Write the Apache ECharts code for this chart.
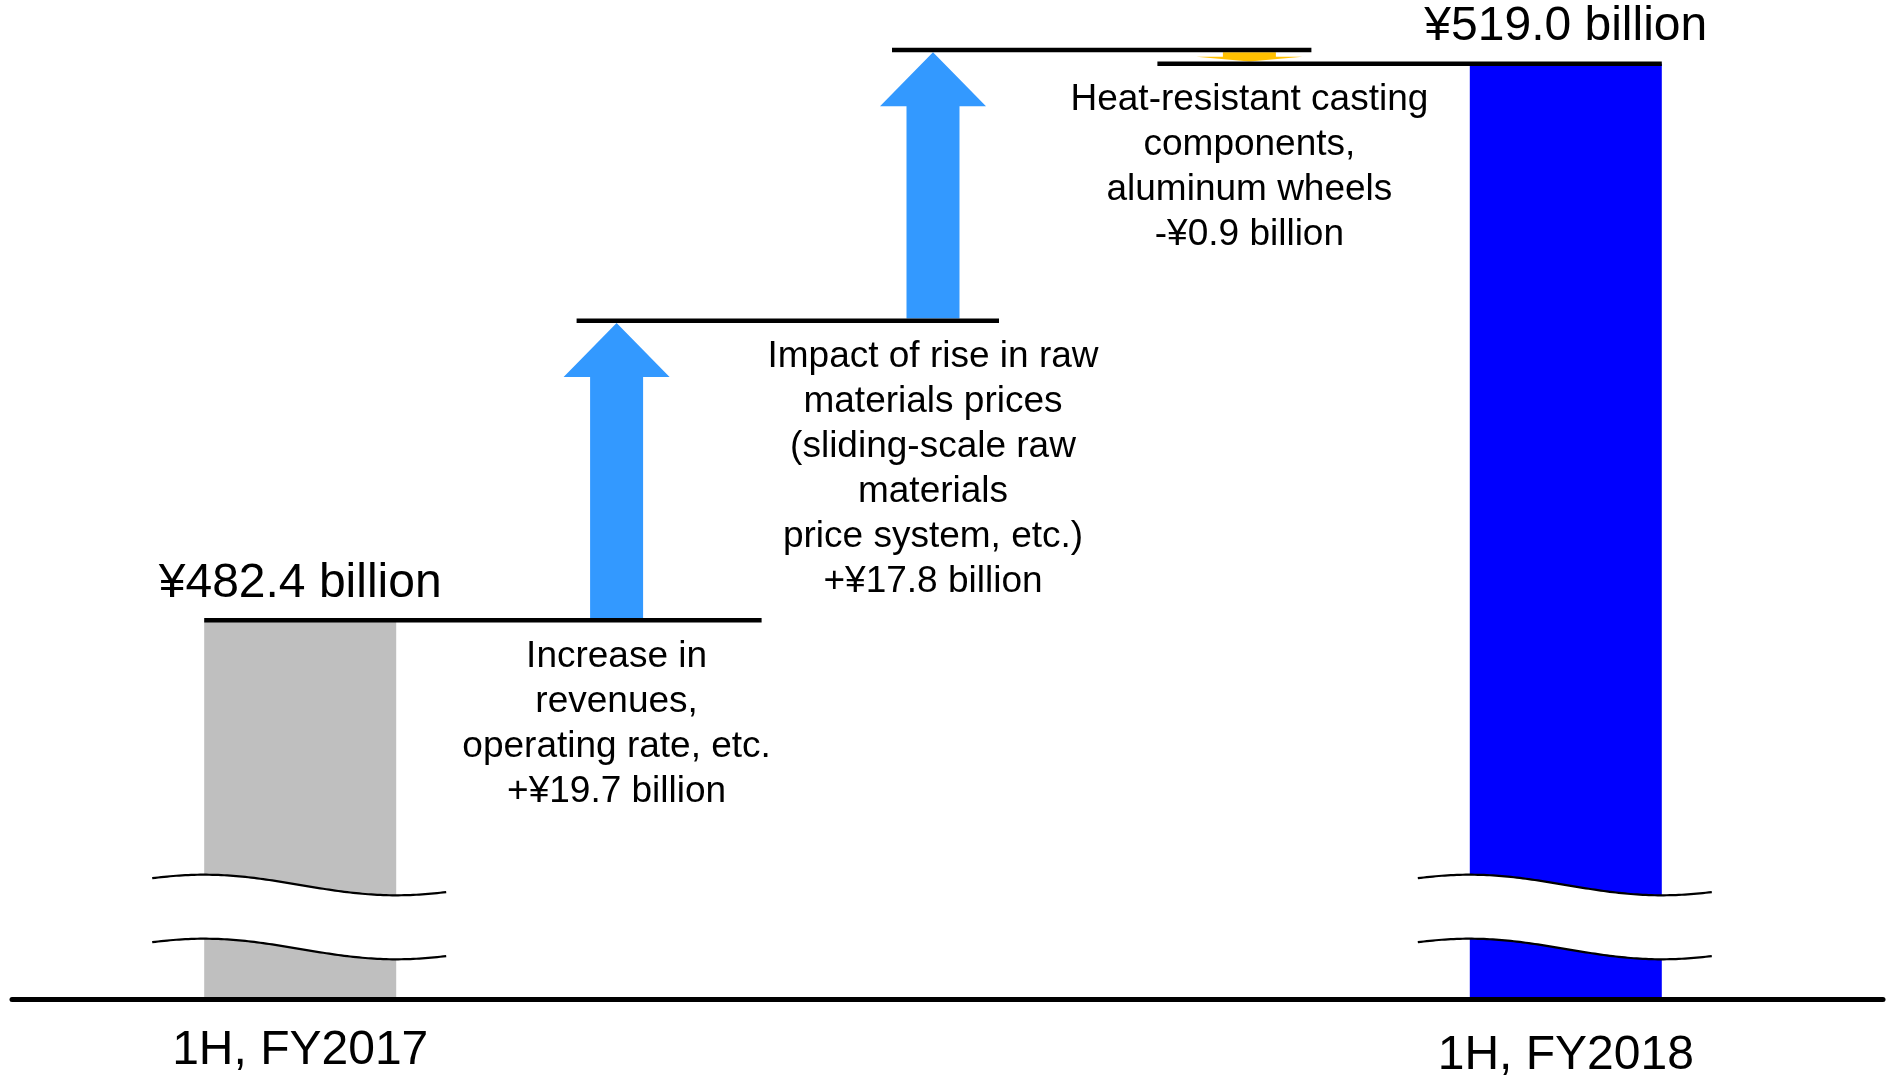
<!DOCTYPE html>
<html>
<head>
<meta charset="utf-8">
<script src="https://cdn.jsdelivr.net/npm/echarts@6/dist/echarts.min.js"></script>
<style>
html,body{margin:0;padding:0;background:#fff;}
#chart{width:1887px;height:1076px;}
</style>
</head>
<body>
<div id="chart"></div>
<script>
// ---- data ----
const categories = ['1H, FY2017', '', '', '', '1H, FY2018'];
const totals = [482.4, null, null, null, 519.0];
const totalLabels = ['¥482.4 billion', '', '', '', '¥519.0 billion'];
const changes = [null, 19.7, 17.8, -0.9, null];
const changeLabels = [
  '',
  'Increase in\nrevenues,\noperating rate, etc.\n+¥19.7 billion',
  'Impact of rise in raw\nmaterials prices\n(sliding-scale raw\nmaterials\nprice system, etc.)\n+¥17.8 billion',
  'Heat-resistant casting\ncomponents,\naluminum wheels\n-¥0.9 billion',
  ''
];

// ---- styles ----
const FONT = "'Liberation Sans', Arial, Helvetica, sans-serif";
const barColors = ['#BFBFBF', null, null, null, '#0000FF'];
const BAR_W = 192;
const LINE_W = 4.5;
const connectorExtents = [[-96, 145], [-40, 66], [-41, 62], [-92, 96]];

// ---- derived waterfall structure ----
const stepData = [];
const connectorData = [];
let level = totals[0];
let prevIdx = 0;
for (let i = 1; i < categories.length; i++) {
  if (changes[i] != null) {
    const to = Math.round((level + changes[i]) * 10) / 10;
    connectorData.push([prevIdx, i, level]);
    stepData.push([i, level, to]);
    level = to;
    prevIdx = i;
  } else if (totals[i] != null) {
    connectorData.push([prevIdx, i, totals[i]]);
  }
}
const barData = totals.map((v, i) => v == null ? '-' : {
  value: v,
  itemStyle: { color: barColors[i] },
  label: { formatter: totalLabels[i] }
});
const breakData = totals.map((v, i) => v == null ? null : [i, v]).filter(d => d);

function renderArrow(params, api) {
  const i = api.value(0), from = api.value(1), to = api.value(2);
  const p0 = api.coord([i, from]);
  const p1 = api.coord([i, to]);
  const x = p0[0];
  const dir = p1[1] < p0[1] ? -1 : 1;
  const y0 = p0[1] + dir * LINE_W / 2;
  const tip = p1[1] - dir * LINE_W / 2;
  const len = Math.abs(tip - y0);
  const hh = Math.min(54, len * 0.5);
  const yh = tip - dir * hh;
  const sw = 53 / 2, hw = 106 / 2;
  const color = dir < 0 ? '#3399FF' : '#FFC000';
  const lower = Math.max(p0[1], p1[1]);
  return {
    type: 'group',
    children: [
      {
        type: 'polygon',
        shape: { points: [[x - sw, y0], [x - sw, yh], [x - hw, yh], [x, tip], [x + hw, yh], [x + sw, yh], [x + sw, y0]] },
        style: { fill: color }
      },
      {
        type: 'text',
        x: x,
        y: lower + 14,
        style: {
          text: changeLabels[i],
          fill: '#000',
          fontSize: 37,
          fontFamily: FONT,
          lineHeight: 45,
          align: 'center',
          verticalAlign: 'top'
        }
      }
    ]
  };
}

function renderConnector(params, api) {
  const a = api.coord([api.value(0), api.value(2)]);
  const b = api.coord([api.value(1), api.value(2)]);
  const e = connectorExtents[params.dataIndex];
  return {
    type: 'line',
    shape: { x1: a[0] + e[0], y1: a[1], x2: b[0] + e[1], y2: b[1] },
    style: { stroke: '#000', lineWidth: LINE_W }
  };
}

function renderBreak(params, api) {
  const c = api.coord([api.value(0), api.value(1)]);
  const cx = c[0];
  const baseline = params.coordSys.y + params.coordSys.height;
  const left = cx - BAR_W / 2, right = cx + BAR_W / 2;
  const x0 = left - 52, x1 = right + 51;
  const P = BAR_W * 2, A = 10.3;
  function wave(mid) {
    const pts = [];
    for (let x = x0; x <= x1 + 0.01; x += 3) {
      pts.push([x, mid - A * Math.cos(2 * Math.PI * (x - left) / P)]);
    }
    return pts;
  }
  const up = wave(baseline - 114);
  const lo = wave(baseline - 50);
  return {
    type: 'group',
    children: [
      { type: 'polygon', shape: { points: up.concat(lo.slice().reverse()) }, style: { fill: '#fff' } },
      { type: 'polyline', shape: { points: up }, style: { stroke: '#000', lineWidth: 2.2, fill: null } },
      { type: 'polyline', shape: { points: lo }, style: { stroke: '#000', lineWidth: 2.2, fill: null } }
    ]
  };
}

const chart = echarts.init(document.getElementById('chart'), null, { renderer: 'canvas' });
chart.setOption({
  animation: false,
  backgroundColor: '#fff',
  grid: [
    { left: 12, right: 4, top: 18, bottom: 77, outerBoundsMode: 'none' },
    { left: 142, right: 163, top: 18, bottom: 77, outerBoundsMode: 'none' }
  ],
  xAxis: [
    {
      gridIndex: 0, type: 'value', min: 0, max: 1, z: 10,
      axisLine: { show: true, onZero: false, lineStyle: { color: '#000', width: 5 } },
      axisTick: { show: false }, axisLabel: { show: false }, splitLine: { show: false }
    },
    {
      gridIndex: 1, type: 'category',
      data: categories.map((c, i) => i === 4 ? { value: c, textStyle: { padding: [5, 0, 0, 0] } } : c),
      axisLine: { show: false }, axisTick: { show: false }, splitLine: { show: false },
      axisLabel: { interval: 0, color: '#000', fontSize: 48, fontFamily: FONT, margin: 28, lineHeight: 48 }
    }
  ],
  yAxis: [
    { gridIndex: 0, type: 'value', min: 457.5, max: 522, show: false },
    { gridIndex: 1, type: 'value', min: 457.5, max: 522, show: false }
  ],
  series: [
    {
      type: 'bar', xAxisIndex: 1, yAxisIndex: 1, data: barData, barWidth: BAR_W, z: 2,
      label: { show: true, position: 'top', distance: 13, color: '#000', fontSize: 48, fontFamily: FONT, lineHeight: 48 }
    },
    {
      type: 'custom', xAxisIndex: 1, yAxisIndex: 1, data: breakData, renderItem: renderBreak, z: 3,
      encode: { x: 0, y: 1 }, clip: false
    },
    {
      type: 'custom', xAxisIndex: 1, yAxisIndex: 1, data: stepData, renderItem: renderArrow, z: 3,
      encode: { x: 0, y: [1, 2] }, clip: false
    },
    {
      type: 'custom', xAxisIndex: 1, yAxisIndex: 1, data: connectorData, renderItem: renderConnector, z: 4,
      encode: { x: [0, 1], y: 2 }, clip: false
    }
  ]
});
</script>
</body>
</html>
